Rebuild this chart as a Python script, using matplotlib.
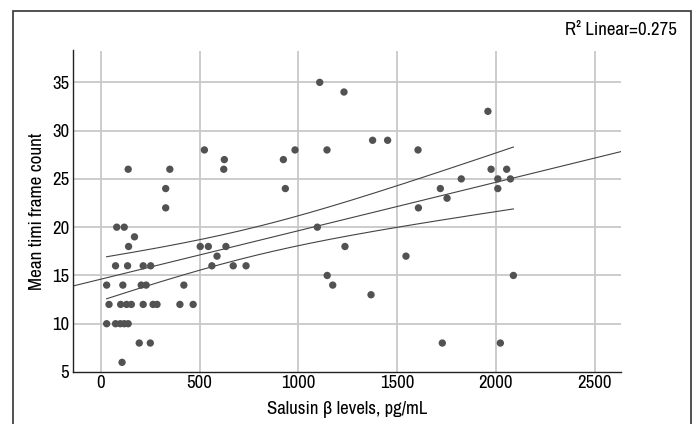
import numpy as np
import matplotlib

matplotlib.use("Agg")
import matplotlib.pyplot as plt
from matplotlib.patches import Rectangle

plt.rcParams['font.family'] = ['Liberation Sans Narrow', 'Arial Narrow', 'Archivo Narrow',
                               'Roboto Condensed', 'PT Sans Narrow', 'Liberation Sans', 'DejaVu Sans']

# Salusin beta (pg/mL) and mean TIMI frame count
salusin = [
    1108, 1231, 1960,
    1376, 1452,
    524, 983, 1145, 1606,
    625, 924,
    138, 349, 622, 1976, 2055,
    1825, 2010, 2074,
    328, 934, 1719, 2010,
    1753,
    328, 1608,
    80, 118, 1096,
    170,
    140, 503, 544, 633, 1236,
    588, 1545,
    74, 135, 214, 252, 562, 670, 735,
    1146, 2089,
    29, 111, 204, 229, 420, 1174,
    1368,
    41, 100, 130, 154, 214, 264, 284, 400, 467,
    29, 74, 98, 118, 138,
    194, 250, 1729, 2023,
    107,
]
tfc = [
    35, 34, 32,
    29, 29,
    28, 28, 28, 28,
    27, 27,
    26, 26, 26, 26, 26,
    25, 25, 25,
    24, 24, 24, 24,
    23,
    22, 22,
    20, 20, 20,
    19,
    18, 18, 18, 18, 18,
    17, 17,
    16, 16, 16, 16, 16, 16, 16,
    15, 15,
    14, 14, 14, 14, 14, 14,
    13,
    12, 12, 12, 12, 12, 12, 12, 12, 12,
    10, 10, 10, 10, 10,
    8, 8, 8, 8,
    6,
]
x_ticks = [0, 500, 1000, 1500, 2000, 2500]
y_ticks = [5, 10, 15, 20, 25, 30, 35]
r2_label = "R² Linear=0.275"
T_CRIT = 1.994  # t(0.975, df=70)

x = np.array(salusin, dtype=float)
y = np.array(tfc, dtype=float)

# linear fit + 95% CI of the mean
slope, icpt = np.polyfit(x, y, 1)
n = len(x)
resid = y - (slope * x + icpt)
s = np.sqrt(np.sum(resid ** 2) / (n - 2))
sxx = np.sum((x - x.mean()) ** 2)

fig = plt.figure(figsize=(6.94, 4.24), dpi=100)
ax = fig.add_axes([72.5 / 694, 52 / 424, (621 - 72.5) / 694, (372 - 50.5) / 424])

for xv in x_ticks:
    ax.axvline(xv, color="#c8c8c8", lw=1.3, zorder=0)
for yv in y_ticks[1:]:
    ax.axhline(yv, color="#c8c8c8", lw=1.3, zorder=0)

xl = (-144, 2634)
xx = np.linspace(xl[0], xl[1], 200)
ax.plot(xx, slope * xx + icpt, color="#444444", lw=0.8, zorder=2)
xb = np.linspace(x.min(), x.max(), 200)
half = T_CRIT * s * np.sqrt(1 / n + (xb - x.mean()) ** 2 / sxx)
ax.plot(xb, slope * xb + icpt + half, color="#444444", lw=0.8, zorder=2)
ax.plot(xb, slope * xb + icpt - half, color="#444444", lw=0.8, zorder=2)

ax.scatter(x, y, s=28, color="#525252", edgecolors="none", zorder=3)

ax.set_xlim(*xl)
ax.set_ylim(5, 38.3)
ax.set_xticks(x_ticks)
ax.set_yticks(y_ticks)
ax.tick_params(length=0, labelsize=13.5, pad=2.5)
for sp in ["top", "right"]:
    ax.spines[sp].set_visible(False)
for sp in ["left", "bottom"]:
    ax.spines[sp].set_color("#222222")
    ax.spines[sp].set_linewidth(1.0)

ax.set_xlabel("Salusin β levels, pg/mL", fontsize=13.5, labelpad=7)
ax.set_ylabel("Mean timi frame count", fontsize=13.8, labelpad=5)

fig.text(677 / 694, 1 - 30 / 424, r2_label, ha="right", va="center", fontsize=13.5)

fig.patches.append(Rectangle((12.5 / 694, -0.05), (690.5 - 12.5) / 694, 1.05 - 10.5 / 424,
                             transform=fig.transFigure, fill=False, ec="#333333", lw=1.2))

fig.savefig("out.png", dpi=100)
